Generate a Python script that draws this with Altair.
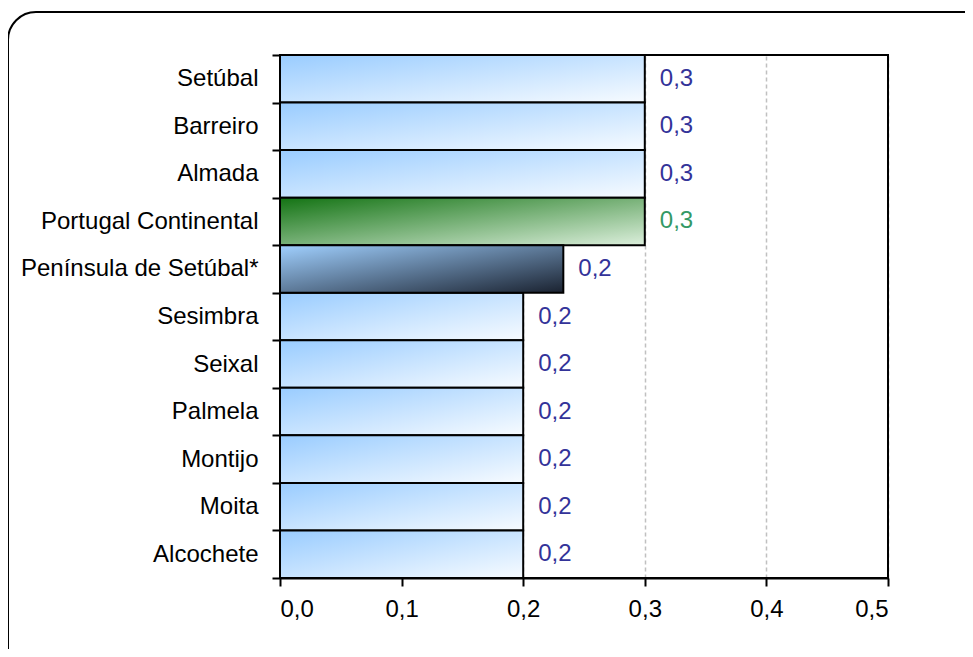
import altair as alt
import pandas as pd

categories = ["Setúbal", "Barreiro", "Almada", "Portugal Continental",
              "Península de Setúbal*", "Sesimbra", "Seixal", "Palmela",
              "Montijo", "Moita", "Alcochete"]
values = [0.3, 0.3, 0.3, 0.3, 0.233, 0.2, 0.2, 0.2, 0.2, 0.2, 0.2]
groups = ["municipio"] * 3 + ["continente", "peninsula"] + ["municipio"] * 6
x_ticks = [0.0, 0.1, 0.2, 0.3, 0.4, 0.5]

df = pd.DataFrame({"cat": categories, "value": values, "group": groups})
df["label"] = [f"{v:.1f}".replace(".", ",") for v in values]

FONT = "Liberation Sans"
FS = 24


def grad(c0, c1):
    return alt.Gradient(
        gradient="linear",
        stops=[alt.GradientStop(color=c0, offset=0),
               alt.GradientStop(color=c1, offset=1)],
        x1=0, y1=0, x2=1, y2=1,
    )


y_enc = alt.Y(
    "cat:N", sort=categories, title=None,
    scale=alt.Scale(paddingInner=0, paddingOuter=0),
    axis=alt.Axis(tickBand="extent", tickSize=8, tickColor="black", tickWidth=2,
                  domainColor="black", domainWidth=2, labelPadding=14,
                  labelLimit=400,
                  labelFont=FONT, labelFontSize=FS, labelColor="black"),
)
x_enc = alt.X(
    "value:Q", title=None,
    scale=alt.Scale(domain=[0, 0.5], nice=False),
    axis=alt.Axis(values=x_ticks,
                  labelExpr="replace(format(datum.value, '.1f'), '.', ',')",
                  grid=True, gridDash=[4, 3], gridColor="#c0c0c0", gridWidth=1.5,
                  tickSize=8, tickColor="black", tickWidth=2,
                  domainColor="black", domainWidth=2, labelPadding=11,
                  labelFont=FONT, labelFontSize=FS, labelColor="black"),
)

base = alt.Chart(df)

bar_style = dict(stroke="black", strokeWidth=2)
bars_blue = base.transform_filter("datum.group == 'municipio'").mark_bar(
    color=grad("#99ccff", "#f7fbff"), **bar_style
).encode(x=x_enc, y=y_enc)
bars_green = base.transform_filter("datum.group == 'continente'").mark_bar(
    color=grad("#137313", "#dcefdc"), **bar_style
).encode(x=x_enc, y=y_enc)
bars_dark = base.transform_filter("datum.group == 'peninsula'").mark_bar(
    color=grad("#a0d0ff", "#1a2230"), **bar_style
).encode(x=x_enc, y=y_enc)

labels = base.mark_text(align="left", baseline="middle", dx=15,
                        font=FONT, fontSize=FS).encode(
    x=x_enc, y=y_enc, text="label:N",
    color=alt.Color("group:N",
                    scale=alt.Scale(domain=["municipio", "continente", "peninsula"],
                                    range=["#333399", "#339966", "#333399"]),
                    legend=None),
)

one = pd.DataFrame({"f": [0]})
plot_border = alt.Chart(one).mark_rect(
    fillOpacity=0, stroke="black", strokeWidth=2
).encode(
    x=alt.value(0), x2=alt.value(608),
    y=alt.value(0), y2=alt.value(523),
)

frame = alt.Chart(one).mark_rect(
    fillOpacity=0, stroke="black", strokeWidth=2, cornerRadius=28
).encode(
    x=alt.value(-272), x2=alt.value(720),
    y=alt.value(-43), y2=alt.value(640),
)

chart = alt.layer(bars_blue, bars_green, bars_dark, labels, plot_border, frame).properties(
    width=608, height=523,
    autosize=alt.AutoSizeParams(type="none"),
    padding={"left": 272, "top": 47, "right": 77, "bottom": 71},
).configure_view(stroke="black", strokeWidth=2).configure(background="white")

chart.save("out.html", embed_options={"renderer": "svg", "actions": False})
